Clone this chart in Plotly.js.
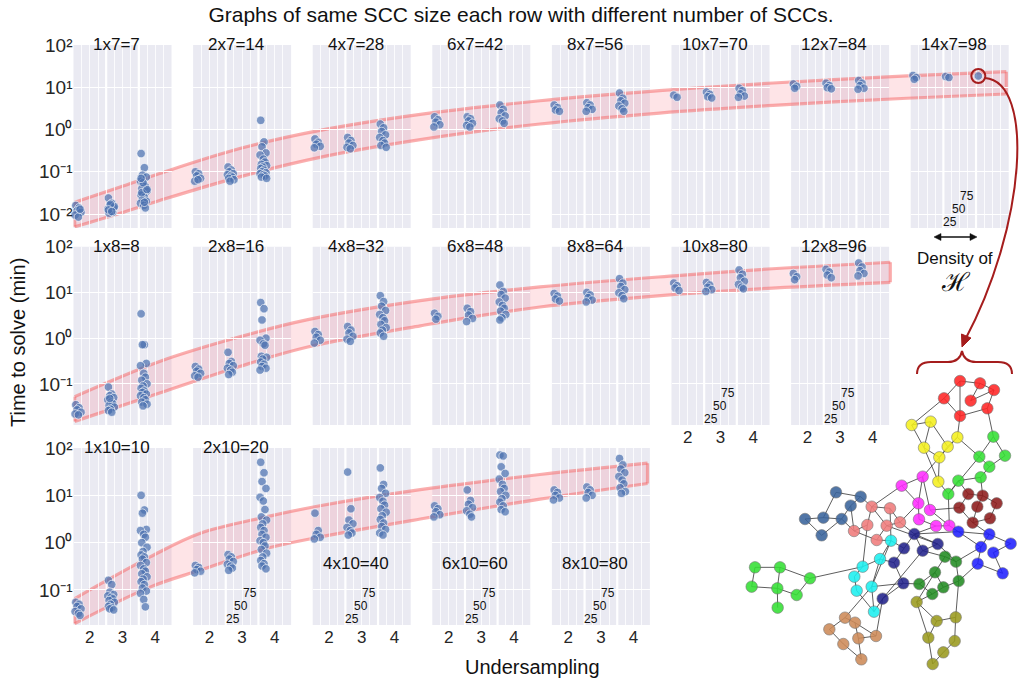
<!DOCTYPE html>
<html><head><meta charset="utf-8">
<script src="https://cdn.plot.ly/plotly-3.0.1.min.js"></script>
<style>html,body{margin:0;padding:0;background:#fff}#chart{width:1021px;height:686px}</style>
</head><body><div id="chart"></div>
<script>
// ---------------- DATA ----------------
const undersampling = [2, 3, 4];
const densityLabels = ['25', '50', '75'];
const yTickVals = [0.01, 0.1, 1, 10, 100];
const yTickText = ['10\u207B\u00B2', '10\u207B\u00B9', '10\u2070', '10\u00B9', '10\u00B2'];
const xTickVals = [2, 3, 4];
const xTickText = ['2', '3', '4'];
const xMinorGrid = [1.75, 2.25, 2.5, 2.75, 3.25, 3.5, 3.75, 4.25];
const xSlotEdges = [2.5, 3.5];

const row1Titles = ['1x7=7', '2x7=14', '4x7=28', '6x7=42', '8x7=56', '10x7=70', '12x7=84', '14x7=98'];
const row2Titles = ['1x8=8', '2x8=16', '4x8=32', '6x8=48', '8x8=64', '10x8=80', '12x8=96'];
const row3Titles = ['1x10=10', '2x10=20', '4x10=40', '6x10=60', '8x10=80'];

// time to solve (min), per panel: [undersampling 2, 3, 4]
const row1Times = [
  [[0.016,0.014,0.012,0.011,0.0095,0.0085,0.013],
   [0.024,0.018,0.016,0.014,0.013,0.012,0.011,0.0105,0.015,0.017,0.0125,0.0115],
   [0.27,0.125,0.083,0.075,0.06,0.05,0.045,0.04,0.035,0.03,0.028,0.025,0.022,0.02,0.018,0.016,0.014,0.032,0.038,0.055,0.07,0.019]],
  [[0.1,0.09,0.08,0.07,0.06,0.065],
   [0.13,0.11,0.1,0.09,0.085,0.08,0.075,0.07,0.065,0.06],
   [1.65,0.51,0.39,0.28,0.25,0.2,0.17,0.15,0.14,0.13,0.12,0.11,0.1,0.095,0.09,0.085,0.08,0.075,0.07]],
  [[0.6,0.5,0.45,0.4,0.37],[0.65,0.55,0.48,0.42,0.38,0.35],[1.35,1.1,0.9,0.75,0.65,0.55,0.48,0.42,0.38]],
  [[2.0,1.7,1.5,1.3,1.15],[2.0,1.8,1.6,1.4,1.25,1.15],[3.8,3.0,2.5,2.1,1.8,1.6,1.4]],
  [[3.8,3.3,2.9,2.7],[4.3,3.8,3.3,3.0,2.7],[7.3,5.5,4.8,4.2,3.6,3.1,2.7]],
  [[6.5,5.8],[7.7,6.8,6.0,5.6],[9.5,8.3,7.0,6.2,5.8]],
  [[12,10.5,9.5],[12.5,11,9.8,9.2],[14.5,12.5,11,9.5,9]],
  [[19,17,15.5],[18,17],[18.5]]
];
const row2Times = [
  [[0.035,0.03,0.027,0.024,0.022,0.021],
   [0.085,0.06,0.055,0.05,0.045,0.04,0.037,0.034,0.031,0.028,0.026,0.024,0.048],
   [3.4,0.72,0.72,0.28,0.25,0.17,0.14,0.12,0.1,0.09,0.08,0.07,0.065,0.06,0.055,0.05,0.045,0.04,0.036,0.033]],
  [[0.24,0.21,0.19,0.17,0.15,0.14],
   [0.49,0.31,0.28,0.25,0.22,0.2,0.18,0.16],
   [6.0,4.4,2.5,1.0,0.9,0.75,0.7,0.4,0.38,0.35,0.3,0.27,0.24,0.22,0.2]],
  [[1.4,1.2,1.05,0.9,0.78],[1.8,1.5,1.3,1.1,0.95,0.85],[8.5,6.3,5.0,4.0,3.3,2.8,2.4,2.0,1.7,1.5,1.3,1.1]],
  [[3.5,3.0,2.6],[4.5,3.8,3.2,2.7,2.3],[14.5,10.5,9,7.5,6.2,5.2,4.5,3.9,3.3,2.8,2.5]],
  [[9.5,8.3,7.2,6.5],[10,8.8,7.7,6.8,6.2],[20,16,13.5,11.5,9.8,8.5,7.3]],
  [[16,14,12.5,11],[16.5,14.5,13,11.5,10.5],[31,25,21,17.5,15,13,12]],
  [[26,22,19],[32,28,24,21],[44,36,30,26,23]]
];
const row3Times = [
  [[0.055,0.05,0.045,0.04,0.035,0.032,0.029],
   [0.16,0.13,0.09,0.08,0.075,0.07,0.065,0.06,0.055,0.05,0.045,0.042,0.04,0.038],
   [10,4.9,4.2,1.9,1.8,1.5,1.3,1.0,0.8,0.65,0.55,0.5,0.45,0.38,0.33,0.28,0.25,0.22,0.19,0.17,0.15,0.13,0.11,0.095,0.085,0.063,0.044]],
  [[0.33,0.3,0.27,0.25,0.23],
   [0.56,0.5,0.45,0.4,0.35,0.32,0.29,0.26],
   [50,30,19.5,14,9.1,7.6,5.0,3.5,3.0,2.5,2.1,1.8,1.5,1.3,1.1,1.0,0.85,0.72,0.6,0.5,0.42,0.36,0.32,0.28]],
  [[4.2,1.8,1.5,1.3,1.2],[31,5.2,3.0,2.5,2.1,1.8,1.6,1.45],[38,17,14,11,9,7.5,6.2,5.2,4.4,3.7,3.1,2.6,2.2,1.9,1.6,1.45]],
  [[6.0,5.2,4.5,3.9,3.5],[13,7.8,6.5,5.5,4.7,4.0,3.5],[71,68,40,29,22,17,14,12,10,8.5,7.2,6.0,5.0,4.5]],
  [[13,11.5,10,8.8,8],[15,13,11.5,10,8.8],[60,44,36,30,25,21,17.5,14.5,12,11]]
];
// small horizontal jitter of the dots inside each undersampling slot
const jitter = [0.02, 0.12, 0.06, 0.18, 0.0, 0.1, 0.15, 0.04, 0.2, 0.08];

// trend bands per row (x in panel-slot units, y in minutes)
const band1X  = [0.01, 0.39, 0.72, 1.39, 2.06, 2.9, 3.9, 4.9, 5.85, 6.97, 7.8];
const band1Hi = [0.019, 0.0437, 0.0912, 0.355, 0.955, 2.29, 4.79, 8.32, 12.6, 18.6, 23.4];
const band1Lo = [0.005, 0.0105, 0.0209, 0.0759, 0.219, 0.575, 1.35, 2.45, 3.72, 5.5, 6.92];
const band2X  = [0.01, 0.72, 1.39, 1.95, 2.9, 3.9, 5.05, 5.74, 6.83];
const band2Hi = [0.0525, 0.309, 1.07, 2.51, 6.61, 13.2, 23.4, 31.6, 45.7];
const band2Lo = [0.0151, 0.0631, 0.24, 0.631, 1.86, 4.79, 9.12, 12.0, 16.6];
const band3X  = [0.01, 0.64, 1.06, 1.62, 2.06, 2.9, 3.9, 4.8];
const band3Hi = [0.066, 0.5, 1.58, 3.55, 6.03, 13.2, 27.5, 47.9];
const band3Lo = [0.0195, 0.115, 0.263, 0.759, 1.32, 3.16, 8.32, 17.8];

// example graph H: 14 SCCs of 7 nodes
const netX = [
  [720,780,822,672,752,802,720],[575,632,712,612,683,658,655],[820,855,778,808,715,782,685],
  [545,608,595,630,597,648,688],[745,788,830,718,772,810,758],[348,422,392,255,310,365,305],
  [455,510,442,500,540,402,470],[513,480,428,403,455,410,462],[583,608,653,552,522,550,488],
  [715,808,872,783,820,773,848],[675,708,645,716,598,670,637],[105,180,270,95,172,230,173],
  [375,405,328,415,468,370,424],[590,650,707,625,704,670,638]
];
const netY = [
  [123,130,150,175,182,205,228],[255,245,292,323,320,352,425],[290,347,350,380,422,412,462],
  [437,410,490,510,538,558,557],[462,467,490,503,500,535,548],[457,470,497,537,533,537,586],
  [500,505,555,557,547,573,600],[602,657,680,710,740,752,815],[582,632,612,625,668,730,776],
  [575,583,611,621,638,671,700],[650,665,697,723,732,742,762],[682,682,715,740,745,765,803],
  [833,848,868,895,888,912,958],[786,843,832,893,903,937,972]
];
const netEdges = [
  0,1, 1,2, 2,5, 5,6, 6,3, 3,0, 1,4, 4,2, 0,6,
  7,8, 8,11, 11,9, 9,12, 12,13, 13,10, 10,7, 8,10, 11,12,
  14,15, 15,17, 17,19, 19,18, 18,20, 20,16, 16,14, 16,17,
  21,22, 22,24, 24,27, 27,26, 26,25, 25,23, 23,21, 22,23,
  28,29, 29,30, 30,33, 33,34, 34,31, 31,28, 29,32, 32,34,
  35,36, 36,37, 37,40, 40,41, 41,38, 38,39, 39,35, 39,40,
  42,43, 43,46, 46,45, 45,48, 48,47, 47,44, 44,42, 42,45,
  49,50, 50,51, 51,52, 52,54, 54,55, 55,53, 53,49, 50,53,
  56,57, 57,58, 58,56, 56,59, 59,60, 60,61, 61,62, 62,57,
  63,64, 64,65, 65,67, 67,69, 69,68, 68,66, 66,63, 64,66,
  70,71, 71,73, 73,75, 75,76, 76,74, 74,72, 72,70, 72,75,
  77,78, 78,79, 79,82, 82,81, 81,83, 81,80, 80,77, 78,81,
  84,85, 85,88, 88,87, 87,90, 90,89, 89,86, 86,84, 85,87,
  91,92, 92,93, 93,95, 95,96, 96,97, 97,94, 94,91, 92,94,
  6,9, 3,7, 12,22, 13,20, 18,28, 20,27, 21,42, 23,46, 24,31, 27,63, 26,56, 34,64,
  36,42, 37,47, 40,47, 43,49, 46,56, 48,49, 49,59, 50,60, 53,61, 55,62, 56,63, 57,70,
  58,71, 61,74, 66,71, 68,73, 72,91, 73,93, 76,91, 79,51, 62,88, 84,53, 19,29, 16,9,
  10,12, 5,14, 45,58, 44,51
];
const netColors = ['#ff2626','#f4f01e','#34e034','#ff2cff','#8e1c1c','#3a649c','#f07c7c',
                   '#1cf0f0','#23238c','#2020ff','#238c23','#34e034','#cd8a58','#9a9a1e'];

// ---------------- LAYOUT / BUILD ----------------
const W = 1021, H = 686;
const rowTop = [45, 246.7, 448], rowBottom = [228, 425, 625];
const rowLogRange = [[-2.33, 2], [-1.9, 2], [-1.74, 2]];
const firstLeft = 73.5, pitch = 119.6, panelW = 98;
const rowsTimes = [row1Times, row2Times, row3Times];
const rowsTitles = [row1Titles, row2Titles, row3Titles];
const bands = [[band1X, band1Hi, band1Lo], [band2X, band2Hi, band2Lo], [band3X, band3Hi, band3Lo]];
const FONT = 'Liberation Sans, Arial, Helvetica, sans-serif';
const DARKRED = '#a51d1d';
const BAND_LINE = {color: 'rgba(245,110,110,0.55)', width: 3.2};

const data = [], shapes = [], annotations = [];
const layout = {
  width: W, height: H, margin: {l: 0, r: 0, t: 0, b: 0},
  paper_bgcolor: '#ffffff', plot_bgcolor: 'rgba(0,0,0,0)',
  showlegend: false, font: {family: FONT, color: '#111'},
  title: {text: 'Graphs of same SCC size each row with different number of SCCs.',
          x: 521 / W, xanchor: 'center', y: 1 - 15 / H, yanchor: 'middle',
          font: {size: 21, color: '#111', family: FONT}}
};
const sfx = n => (n === 1 ? '' : String(n));
const rowDomain = r => [1 - rowBottom[r] / H, 1 - rowTop[r] / H];
let sub = 0;

// bands (drawn first, beneath the panels' dots)
for (let r = 0; r < 3; r++) {
  sub++; const s = sfx(sub);
  layout['xaxis' + s] = {domain: [firstLeft / W, (firstLeft + 7 * pitch + panelW) / W], range: [0, 7.82],
                         visible: false, anchor: 'y' + s, fixedrange: true};
  layout['yaxis' + s] = {domain: rowDomain(r), type: 'log', range: rowLogRange[r], visible: false,
                         anchor: 'x' + s, fixedrange: true};
  const [bx, hi, lo] = bands[r];
  const common = {type: 'scatter', mode: 'lines', xaxis: 'x' + s, yaxis: 'y' + s, hoverinfo: 'skip'};
  data.push(Object.assign({}, common, {x: bx, y: hi, line: Object.assign({shape: 'spline', smoothing: 1}, BAND_LINE)}));
  data.push(Object.assign({}, common, {x: bx, y: lo, fill: 'tonexty', fillcolor: 'rgba(250,130,145,0.22)',
    line: Object.assign({shape: 'spline', smoothing: 1}, BAND_LINE)}));
  const n = bx.length - 1;
  data.push(Object.assign({}, common, {x: [bx[0], bx[0], null, bx[n], bx[n]], y: [lo[0], hi[0], null, lo[n], hi[n]],
    line: BAND_LINE}));
}

// panels
for (let r = 0; r < 3; r++) {
  const times = rowsTimes[r];
  for (let k = 0; k < times.length; k++) {
    sub++; const s = sfx(sub);
    const left = firstLeft + k * pitch;
    const showX = (r === 2) || (r === 1 && k >= 5);
    const showDensity = (r === 0 && k === 7) || (r === 1 && k >= 5) || (r === 2 && k >= 1);
    shapes.push({type: 'rect', xref: 'paper', yref: 'paper', layer: 'below',
      x0: left / W, x1: (left + panelW) / W, y0: rowDomain(r)[0], y1: rowDomain(r)[1],
      fillcolor: '#eaeaf2', line: {width: 0}});
    xSlotEdges.forEach(v => shapes.push({type: 'line', xref: 'x' + s, yref: 'y' + s + ' domain', layer: 'below',
      x0: v, x1: v, y0: 0, y1: 1, line: {color: '#ffffff', width: 2.2}}));
    layout['xaxis' + s] = {domain: [left / W, (left + panelW) / W], anchor: 'y' + s, range: [1.5, 4.5],
      tickmode: 'array', tickvals: xTickVals, ticktext: xTickText, showticklabels: showX,
      showgrid: true, gridcolor: '#ffffff', gridwidth: 0.8, zeroline: false, showline: false, ticks: '',
      tickfont: {size: 17, color: '#262626'},
      minor: {tickmode: 'array', tickvals: xMinorGrid, showgrid: true, gridcolor: '#ffffff', gridwidth: 0.8, ticks: ''},
      fixedrange: true};
    layout['yaxis' + s] = {domain: rowDomain(r), anchor: 'x' + s, type: 'log', range: rowLogRange[r],
      tickmode: 'array', tickvals: yTickVals, ticktext: yTickText, showticklabels: k === 0,
      showgrid: true, gridcolor: '#ffffff', gridwidth: 1, zeroline: false, showline: false, ticks: '',
      tickfont: {size: 19, color: '#262626'}, fixedrange: true};
    const xs = [], ys = [];
    times[k].forEach((col, c) => col.forEach((v, i) => {
      xs.push(undersampling[c] - 0.45 + jitter[i % jitter.length]); ys.push(v);
    }));
    data.push({type: 'scatter', mode: 'markers', xaxis: 'x' + s, yaxis: 'y' + s, x: xs, y: ys,
      cliponaxis: false, hoverinfo: 'skip',
      marker: {size: 8.5, color: 'rgba(76,114,176,0.72)', line: {width: 0.7, color: 'rgba(255,255,255,0.9)'}}});
    if (r === 0 && k === 7) {
      // highlighted run (example graph shown on the right)
      data.push({type: 'scatter', mode: 'markers', xaxis: 'x' + s, yaxis: 'y' + s,
        x: [undersampling[2] - 0.45 + jitter[0]], y: [times[k][2][0]], cliponaxis: false, hoverinfo: 'skip',
        marker: {symbol: 'circle-open', size: 14, color: DARKRED, line: {width: 2, color: DARKRED}}});
    }
    const lowTitle = (r === 2 && k >= 2);
    annotations.push({xref: 'x' + s + ' domain', yref: 'y' + s + ' domain', x: 0.44, y: lowTitle ? 0.35 : 1,
      xanchor: 'center', yanchor: 'middle', text: rowsTitles[r][k], showarrow: false,
      font: {size: 17, color: '#111'}});
    if (showDensity) {
      const shifts = [[39.5, 6], [48, 19.5], [56.5, 32]];
      densityLabels.forEach((t, i) => annotations.push({xref: 'x' + s + ' domain', yref: 'y' + s + ' domain',
        x: 0, y: 0, xshift: shifts[i][0], yshift: shifts[i][1], xanchor: 'center', yanchor: 'middle',
        text: t, showarrow: false, font: {size: 12, color: '#111'}}));
    }
  }
}

// example graph subplot
sub++;
{
  const s = sfx(sub);
  layout['xaxis' + s] = {domain: [720 / W, 1020 / W], range: [0, 900], visible: false, anchor: 'y' + s, fixedrange: true};
  layout['yaxis' + s] = {domain: [1 - 680 / H, 1 - 340 / H], range: [1020, 0], visible: false, anchor: 'x' + s, fixedrange: true};
  const flatX = [].concat(...netX), flatY = [].concat(...netY);
  const ex = [], ey = [];
  for (let i = 0; i < netEdges.length; i += 2) {
    ex.push(flatX[netEdges[i]], flatX[netEdges[i + 1]], null);
    ey.push(flatY[netEdges[i]], flatY[netEdges[i + 1]], null);
  }
  data.push({type: 'scatter', mode: 'lines', xaxis: 'x' + s, yaxis: 'y' + s, x: ex, y: ey,
    line: {color: '#333', width: 0.8}, hoverinfo: 'skip'});
  netX.forEach((xs, c) => data.push({type: 'scatter', mode: 'markers', xaxis: 'x' + s, yaxis: 'y' + s,
    x: xs, y: netY[c], hoverinfo: 'skip', cliponaxis: false,
    marker: {size: 11.5, color: netColors[c], opacity: 0.88, line: {width: 0.6, color: '#666'}}}));
}

// decorations: red curved arrow, arrowhead and brace; density double-arrow
const P = (x, y) => (x / W).toFixed(5) + ',' + (1 - y / H).toFixed(5);
shapes.push({type: 'path', xref: 'paper', yref: 'paper', layer: 'above',
  path: 'M' + P(985, 78) + ' C' + P(1035, 82) + ' ' + P(1026, 225) + ' ' + P(965, 340),
  line: {color: DARKRED, width: 2}});
shapes.push({type: 'path', xref: 'paper', yref: 'paper', layer: 'above',
  path: 'M' + P(962, 347) + ' L' + P(971, 338) + ' L' + P(961.5, 334) + ' Z',
  fillcolor: DARKRED, line: {color: DARKRED, width: 1}});
shapes.push({type: 'path', xref: 'paper', yref: 'paper', layer: 'above',
  path: 'M' + P(917, 374) + ' Q' + P(917, 362) + ' ' + P(931, 362) + ' L' + P(948, 362) +
        ' Q' + P(960, 362) + ' ' + P(962, 351) + ' Q' + P(964, 362) + ' ' + P(976, 362) +
        ' L' + P(998, 362) + ' Q' + P(1012, 362) + ' ' + P(1012, 374),
  line: {color: DARKRED, width: 2}});
shapes.push({type: 'line', xref: 'paper', yref: 'paper', layer: 'above',
  x0: 938 / W, x1: 973 / W, y0: 1 - 237 / H, y1: 1 - 237 / H, line: {color: '#111', width: 1.5}});
shapes.push({type: 'path', xref: 'paper', yref: 'paper', layer: 'above',
  path: 'M' + P(934, 237) + ' L' + P(941, 233.5) + ' L' + P(941, 240.5) + ' Z' +
        ' M' + P(977, 237) + ' L' + P(970, 233.5) + ' L' + P(970, 240.5) + ' Z',
  fillcolor: '#111', line: {color: '#111', width: 0.5}});

// "Density of H" legend text
annotations.push({xref: 'paper', yref: 'paper', x: 955 / W, y: 1 - 258 / H, text: 'Density of', showarrow: false,
  xanchor: 'center', yanchor: 'middle', font: {size: 17, color: '#111'}});
annotations.push({xref: 'paper', yref: 'paper', x: 956 / W, y: 1 - 282 / H, text: '\u210B', showarrow: false,
  xanchor: 'center', yanchor: 'middle', font: {size: 26, color: '#111', family: 'DejaVu Serif, serif'}});

// axis titles
annotations.push({xref: 'paper', yref: 'paper', x: 18 / W, y: 1 - 343 / H, text: 'Time to solve (min)', textangle: -90,
  showarrow: false, xanchor: 'center', yanchor: 'middle', font: {size: 20, color: '#111'}});
annotations.push({xref: 'paper', yref: 'paper', x: 532 / W, y: 1 - 667 / H, text: 'Undersampling',
  showarrow: false, xanchor: 'center', yanchor: 'middle', font: {size: 20, color: '#111'}});

layout.shapes = shapes;
layout.annotations = annotations;
Plotly.newPlot('chart', data, layout, {displayModeBar: false, staticPlot: true});
</script></body></html>
